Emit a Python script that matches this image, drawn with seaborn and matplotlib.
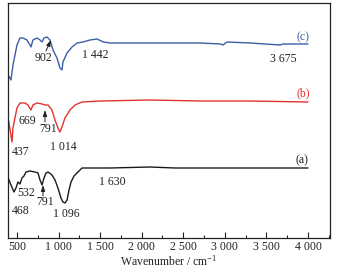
import matplotlib
matplotlib.use("Agg")
import matplotlib.pyplot as plt
import matplotlib.ticker as mticker
import numpy as np
import pandas as pd
import seaborn as sns

# ---- data (transmittance in arbitrary offset units) ----
wn_c = [400, 428, 452, 500, 536, 572, 620, 656, 668, 692, 741, 777, 801, 825, 861, 897,
        933, 981, 1017, 1041, 1053, 1102, 1162, 1222, 1294, 1378, 1462, 1540, 1619,
        2100, 2701, 2950, 2978, 3026, 3303, 3664, 3700, 4000]
t_c = [195, 191, 206, 226, 233, 233, 231, 226, 224, 231, 233, 231, 229, 233, 234, 231,
       221, 213, 203, 201, 209, 218, 224, 228, 229, 231, 232, 229, 228,
       228, 228, 227, 226, 229, 228, 226, 227, 227]

wn_b = [400, 440, 452, 500, 536, 596, 632, 668, 692, 741, 801, 837, 873, 921, 957, 993,
        1017, 1041, 1077, 1138, 1198, 1282, 1500, 2100, 2701, 3303, 4000]
t_b = [150, 129, 143, 163, 168, 168, 166, 161, 166, 168, 167, 166, 166, 161, 151, 143,
       139, 144, 153, 161, 166, 169, 170, 171, 170, 170, 169]

wn_a = [395, 428, 464, 488, 512, 536, 560, 584, 608, 656, 717, 753, 777, 801, 825, 849,
        873, 921, 957, 993, 1029, 1053, 1077, 1102, 1126, 1150, 1186, 1234, 1282, 1619,
        2100, 2400, 2701, 3303, 4000]
t_a = [93, 86, 79, 83, 89, 87, 93, 95, 99, 100, 99, 98, 91, 86, 93, 98,
       99, 96, 91, 83, 73, 69, 68, 71, 81, 89, 95, 99, 103, 103,
       104, 103, 103, 103, 103]

series = ["(a)", "(b)", "(c)"]
colors = ["#1a1a1a", "#e0342f", "#3b5ea6"]

x_ticks = [500, 1000, 1500, 2000, 2500, 3000, 3500, 4000]
x_label = "Wavenumber / cm$^{-1}$"

# peak annotations: (text, x, y)
peak_labels = [
    ("902", 813, 213), ("1 442", 1438, 216), ("3 675", 3700, 212),
    ("669", 620, 150), ("791", 873, 142), ("437", 548, 119), ("1 014", 1053, 124),
    ("532", 608, 78), ("468", 548, 60), ("791", 837, 69), ("1 096", 1090, 57),
    ("1 630", 1643, 89),
]
series_labels = [("(c)", 3941, 234), ("(b)", 3941, 178), ("(a)", 3929, 111)]
arrows = [((849, 220), (909, 231)), ((837, 149), (837, 161)), ((813, 75), (813, 86))]

frames = []
for name, wn, t in zip(series, [wn_a, wn_b, wn_c], [t_a, t_b, t_c]):
    frames.append(pd.DataFrame({"wn": wn, "T": t, "s": name}))
df = pd.concat(frames, ignore_index=True)

sns.set_theme(style="white")
plt.rcParams["font.family"] = ["Liberation Serif", "DejaVu Serif"]
plt.rcParams["mathtext.fontset"] = "custom"
plt.rcParams["mathtext.rm"] = "Liberation Serif"
plt.rcParams["mathtext.it"] = "Liberation Serif:italic"

FS = 8.5
fig = plt.figure(figsize=(3.46, 2.71), dpi=100)
ax = fig.add_axes([8 / 346, 1 - 238 / 271, (330 - 8) / 346, (238 - 3) / 271])

sns.lineplot(data=df, x="wn", y="T", hue="s", palette=dict(zip(series, colors)),
             sort=False, estimator=None, legend=False, linewidth=1.0, ax=ax)

ax.set_xlim(392, 4265)
ax.set_ylim(33, 268)
ax.set_yticks([])
ax.set_ylabel("")
ax.set_xticks(x_ticks)
ax.xaxis.set_major_formatter(mticker.FuncFormatter(lambda v, p: f"{int(v):,}".replace(",", " ")))
ax.xaxis.set_minor_locator(mticker.MultipleLocator(250))
ax.tick_params(axis="x", which="major", direction="in", length=4, width=0.8,
               labelsize=FS, pad=2, bottom=True, colors="#222222")
ax.tick_params(axis="x", which="minor", direction="in", length=2, width=0.8, bottom=True)
ax.set_xlabel(x_label, fontsize=FS, labelpad=1, color="#222222")
for sp in ax.spines.values():
    sp.set_color("#222222")
    sp.set_linewidth(0.9)

for txt, x, y in peak_labels:
    ax.text(x, y, txt, fontsize=FS, ha="center", va="center", color="#222222")
for (txt, x, y), c in zip(series_labels, [colors[2], colors[1], colors[0]]):
    ax.text(x, y, txt, fontsize=FS, ha="center", va="center", color=c)
for (x0, y0), (x1, y1) in arrows:
    ax.annotate("", xy=(x1, y1), xytext=(x0, y0),
                arrowprops=dict(arrowstyle="-|>,head_length=0.3,head_width=0.1",
                                color="#222222", lw=0.7, shrinkA=0, shrinkB=0))

fig.savefig("out.png", dpi=100)
